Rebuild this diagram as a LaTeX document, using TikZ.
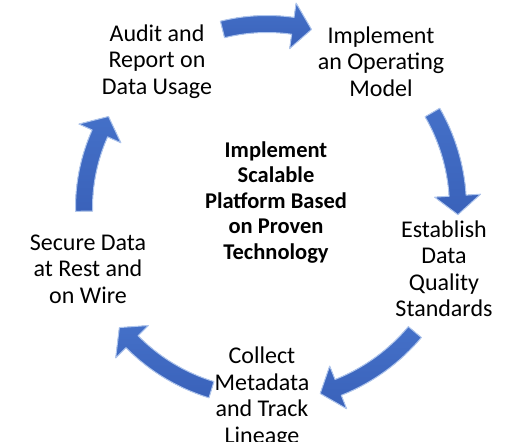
\documentclass[tikz,border=0pt]{standalone}
\usepackage{fontspec}
\setmainfont{Carlito}
\usetikzlibrary{positioning,calc}
\definecolor{arrowblue}{RGB}{68,112,200}
\definecolor{arrowdark}{RGB}{58,98,186}
\definecolor{arrowedge}{RGB}{175,198,238}
\tikzset{
  steptext/.style={align=center, font=\fontsize{24}{26.5}\selectfont, inner sep=0pt},
  hubtext/.style={align=center, font=\fontsize{22.5}{25.5}\selectfont\bfseries, inner sep=0pt},
  cycarr/.style={top color=arrowblue, bottom color=arrowdark, draw=arrowedge,
                 line width=1pt, line join=round},
}
% curved block arrow on the cycle: start angle, tip angle, radius
\def\bw{8.5}\def\hw{23}\def\headlen{19}
\newcommand{\cycarrow}[3]{%
  \pgfmathsetmacro{\hb}{#2+(#1>#2 ? 1 : -1)*\headlen/#3*180/pi}
  \filldraw[cycarr] (#1:#3+\bw) arc[start angle=#1, end angle=\hb, radius=#3+\bw]
    -- (\hb:#3+\hw) -- (#2:#3) -- (\hb:#3-\hw) -- (\hb:#3-\bw)
    arc[start angle=\hb, end angle=#1, radius=#3-\bw] -- cycle;
}

\begin{document}
\begin{tikzpicture}[x=1pt,y=1pt]
  \useasboundingbox (0,0) rectangle (531,-442);

  % steps round the cycle
  \node[hubtext] (hub) at (276,-202.5) {Implement\\Scalable\\Platform Based\\on Proven\\Technology};
  \node[steptext] (audit) at (157,-61.5) {Audit and\\Report on\\Data Usage};
  \node[steptext] (operating) at (381,-61.5) {Implement\\an Operating\\Model};
  \node[steptext] (quality) at (444,-269) {Establish\\Data\\Quality\\Standards};
  \node[steptext] (metadata) at (262,-397) {Collect\\Metadata\\and Track\\Lineage};
  \node[steptext] (secure) at (88,-269) {Secure Data\\at Rest and\\on Wire};

  % arrows
  \coordinate (cyc) at (267,-208);
  \begin{scope}[shift={(cyc)}]
    \cycarrow{104}{76}{184}
    \cycarrow{30}{-2}{191}
    \cycarrow{-40}{-74}{193}
    \cycarrow{253}{219}{190}
    \cycarrow{181}{150}{183}
  \end{scope}
\end{tikzpicture}
\end{document}
